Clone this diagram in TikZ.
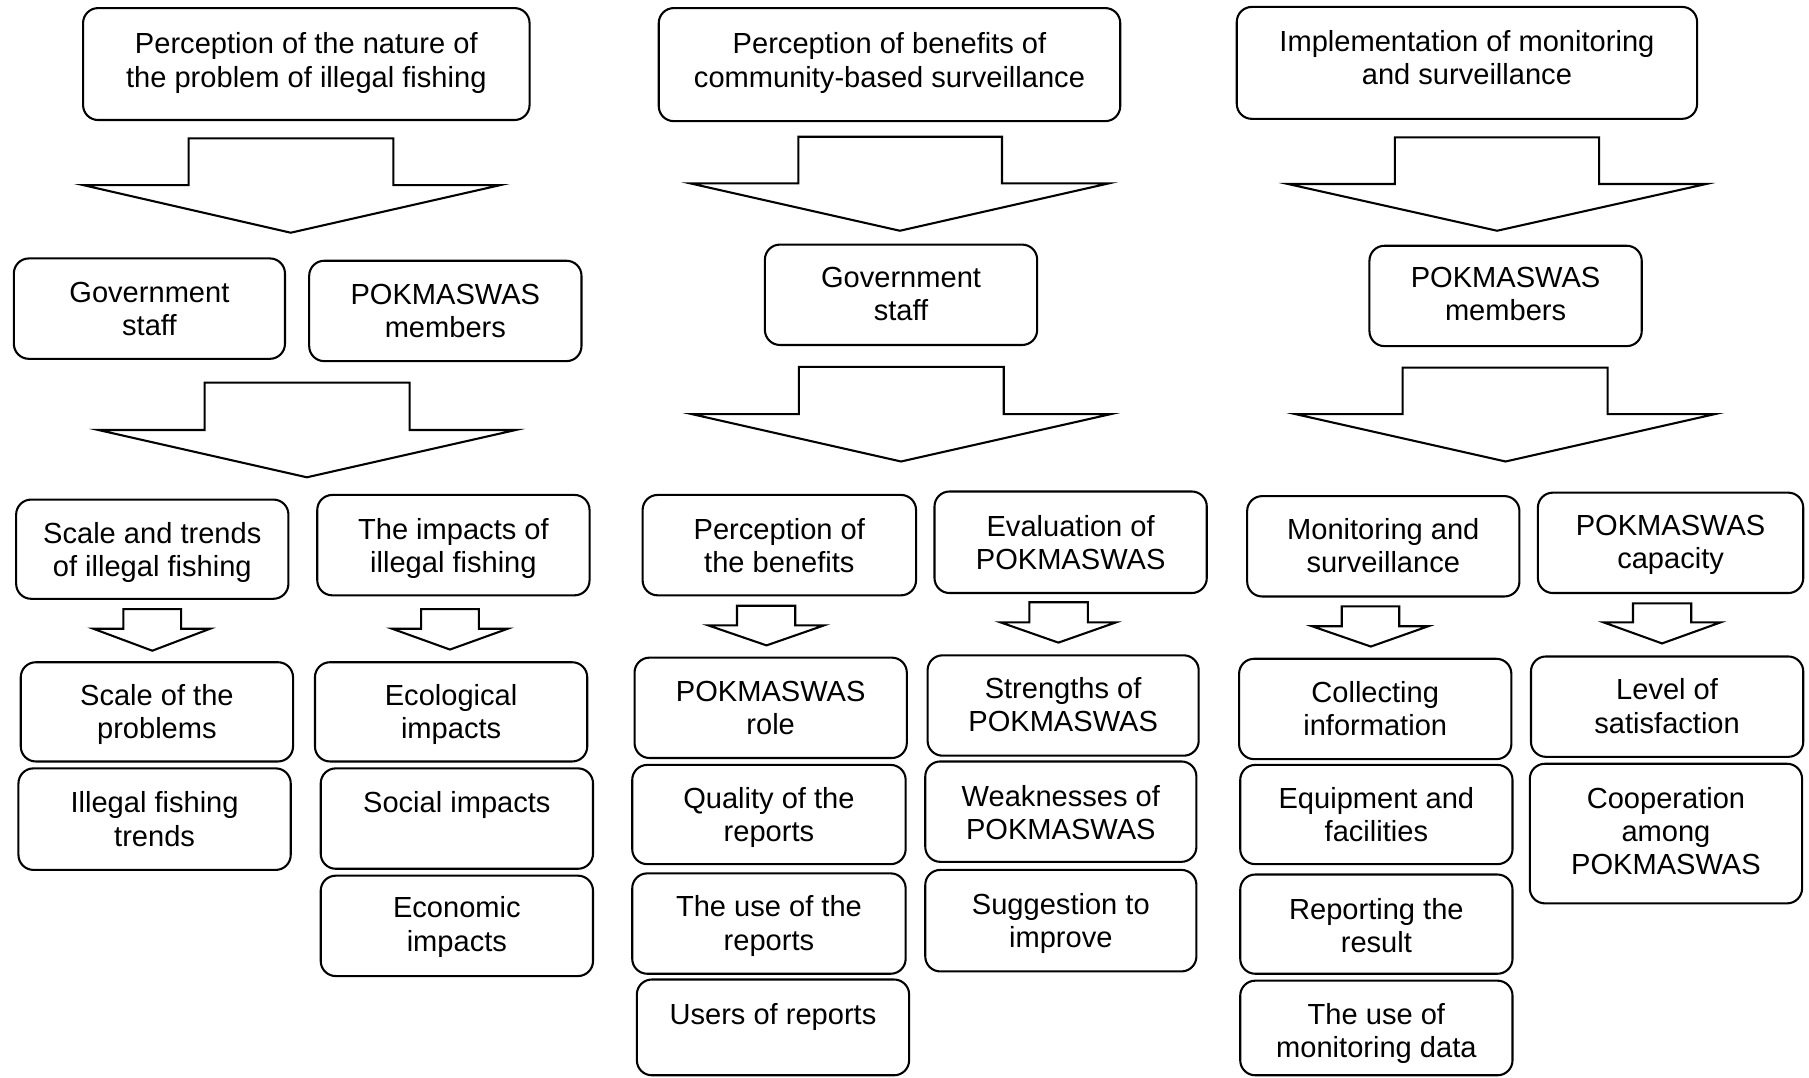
\documentclass[tikz,border=0pt]{standalone}
\usepackage{fontspec}
\setmainfont{Liberation Sans}
\usetikzlibrary{fit}
\tikzset{
  box/.style={draw, line width=0.9pt, rounded corners=6.5pt, inner sep=0pt},
  lbl/.style={inner sep=0pt, align=center, font=\fontsize{12.6}{14.4}\selectfont, anchor=north},
  barw/.style={draw, line width=0.9pt, fill=white, line join=miter}
}
% box: name, x1, y1, x2, y2, first-line centre y, text
\newcommand\bx[7]{%
  \node[box, fit={(#2,#3) (#4,#5)}] (#1) {};
  \node[lbl] (#1-t) at ({(#2+#4)/2},{#6-10}) {#7};}
% block arrow: shaftL, shaftR, top, shoulder, wingL, wingR, tipx, tipy
\newcommand\barr[8]{%
  \draw[barw] (#1,#3) -- (#2,#3) -- (#2,#4) -- ({#6-4},#4) -- (#7,#8) -- ({#5+4},#4) -- (#1,#4) -- cycle;}
\begin{document}
\begin{tikzpicture}[x=0.5pt, y=-0.5pt]
\fill[white] (0,0) rectangle (1568,934);
\useasboundingbox (0,0) rectangle (1568,934);

% ---------- column 1 ----------
\bx{cAtop}{72}{7}{459}{104}{38}{Perception of the nature of\\the problem of illegal fishing}
\barr{163.5}{341}{120}{160.4}{68}{437.8}{252}{201.7}
\bx{cAgov}{12}{224}{247}{311}{254}{Government\\staff}
\bx{cApok}{268}{226}{504}{313}{256}{POKMASWAS\\members}
\barr{177.4}{355}{331.7}{372.7}{81.3}{451}{266}{413.7}
\bx{cAscale}{14}{433}{250}{519}{462}{Scale and trends\\of illegal fishing}
\bx{cAimp}{275}{429}{511}{516}{459}{The impacts of\\illegal fishing}
\barr{107}{157}{528}{545}{77}{186}{132}{564}
\barr{365}{415}{528}{545}{336}{444}{390}{563}
\bx{cAsp}{18}{574}{254}{660}{603}{Scale of the\\problems}
\bx{cAift}{16}{666}{252}{754}{696}{Illegal fishing\\trends}
\bx{cAeco}{273}{574}{509}{660}{603}{Ecological\\impacts}
\bx{cAsoc}{278}{666}{514}{753}{696}{Social impacts}
\bx{cAecon}{278}{759}{514}{846}{787}{Economic\\impacts}

% ---------- column 2 ----------
\bx{cBtop}{571}{7}{971}{105}{38}{Perception of benefits of\\community-based surveillance}
\barr{692}{868.5}{118.5}{159}{594.6}{964.8}{780}{200}
\bx{cBgov}{663}{212}{899}{299}{241}{Government\\staff}
\barr{692.5}{870}{318}{359}{596}{966.5}{781}{400}
\bx{cBper}{557}{429}{794}{516}{459}{Perception of\\the benefits}
\bx{cBeval}{810}{426}{1046}{514}{456}{Evaluation of\\POKMASWAS}
\barr{638.8}{689.3}{525}{542}{609.7}{718.4}{664.4}{559.4}
\barr{892.2}{943}{522}{539.5}{863.4}{971.2}{917.4}{557}
\bx{cBrole}{550}{570}{786}{657}{600}{POKMASWAS\\role}
\bx{cBqual}{548}{663}{785}{749}{692}{Quality of the\\reports}
\bx{cBuse}{548}{757}{785}{844}{786}{The use of the\\reports}
\bx{cBusers}{552}{849}{788}{932}{879}{Users of reports}
\bx{cBstr}{804}{568}{1039}{655}{597}{Strengths of\\POKMASWAS}
\bx{cBweak}{802}{660}{1037}{747}{690}{Weaknesses of\\POKMASWAS}
\bx{cBsug}{802}{754}{1037}{842}{784}{Suggestion to\\improve}

% ---------- column 3 ----------
\bx{cCtop}{1072}{6}{1471}{103}{36}{Implementation of monitoring\\and surveillance}
\barr{1209}{1386}{119}{159.5}{1112.5}{1482.7}{1297.6}{200}
\bx{cCpok}{1187}{213}{1423}{300}{241}{POKMASWAS\\members}
\barr{1215.8}{1393.5}{318.7}{359}{1119.2}{1490.1}{1305}{400}
\bx{cCmon}{1081}{430}{1317}{517}{459}{Monitoring and\\surveillance}
\bx{cCcap}{1333}{427}{1563}{514}{456}{POKMASWAS\\capacity}
\barr{1163}{1212.8}{525.5}{542.8}{1133.3}{1242}{1188.2}{560.4}
\barr{1415.4}{1465.9}{523}{539.5}{1386.1}{1495.2}{1440.6}{557.7}
\bx{cCcol}{1074}{571}{1310}{658}{600}{Collecting\\information}
\bx{cCequ}{1075}{663}{1311}{749}{692}{Equipment and\\facilities}
\bx{cCrep}{1075}{758}{1311}{844}{788}{Reporting the\\result}
\bx{cCumd}{1075}{850}{1311}{932}{879}{The use of\\monitoring data}
\bx{cClev}{1327}{569}{1563}{656}{598}{Level of\\satisfaction}
\bx{cCcoop}{1326}{662}{1562}{783}{692}{Cooperation\\among\\POKMASWAS}
\end{tikzpicture}
\end{document}
